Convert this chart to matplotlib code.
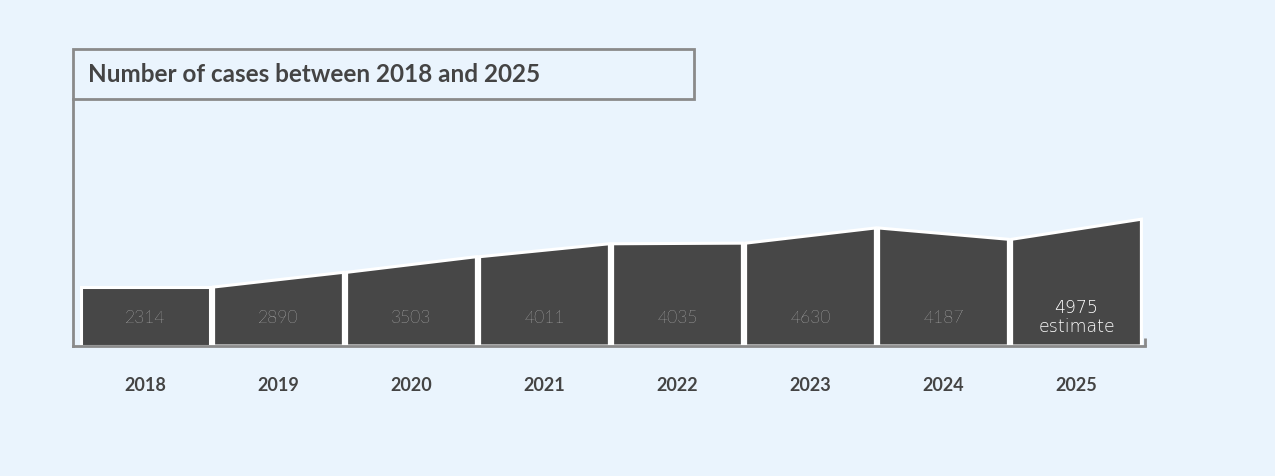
import matplotlib.pyplot as plt
from matplotlib.patches import Rectangle

years = ["2018", "2019", "2020", "2021", "2022", "2023", "2024", "2025"]
cases = [2314, 2890, 3503, 4011, 4035, 4630, 4187, 4975]
value_labels = ["2314", "2890", "3503", "4011", "4035", "4630", "4187", "4975\nestimate"]

BG = "#EAF4FD"
BAR = "#474747"
AXIS = "#8a8a8a"
TEXT = "#444444"
W, H = 1275, 477

fig = plt.figure(figsize=(W / 100, H / 100), dpi=100, facecolor=BG)
# axes from x=73..1145 px, y=100..347 px
ax = fig.add_axes([73 / W, 1 - 347 / H, (1145 - 73) / W, (347 - 100) / H])
ax.set_facecolor(BG)
ax.set_xlim(-0.045, 8.015)
ax.set_ylim(0, 9690)

gap = 0.012
for i, v in enumerate(cases):
    prev = cases[i - 1] if i > 0 else v
    x0, x1 = i + gap, i + 1 - gap
    ax.fill([x0, x0, x1, x1], [0, prev, v, 0], color=BAR, ec="white", lw=2.2, zorder=2)
    if "\n" in value_labels[i]:
        ax.text(i + 0.5, 1150, value_labels[i], ha="center", va="center", color="white",
                fontsize=12.5, family="Montserrat, Lato", linespacing=1.1, fontweight="light")
    else:
        ax.text(i + 0.5, 1150, value_labels[i], ha="center", va="center", color="white",
                fontsize=12.5, fontweight="light", family="Lato")

for s in ["top", "right"]:
    ax.spines[s].set_visible(False)
for s in ["left", "bottom"]:
    ax.spines[s].set_color(AXIS)
    ax.spines[s].set_linewidth(2)
ax.set_yticks([])
ax.set_xticks([8.015])
ax.set_xticklabels([""])
ax.tick_params(axis="x", color=AXIS, width=2, length=6, direction="in")
ax.tick_params(axis="x", which="both", bottom=True)

for i, y in enumerate(years):
    ax.text(i + 0.5, -1500, y, ha="center", va="center", color=TEXT,
            fontsize=13, fontweight="bold", family="Lato")

fig.patches.append(Rectangle((73 / W, 1 - 100 / H), (694 - 73) / W, 50 / H,
                             transform=fig.transFigure, fill=False, ec=AXIS, lw=2))
fig.text(88 / W, 1 - 75 / H, "Number of cases between 2018 and 2025", ha="left", va="center",
         color=TEXT, fontsize=17.5, fontweight="bold", family="Lato")

fig.savefig("out.png", dpi=100, facecolor=BG)
